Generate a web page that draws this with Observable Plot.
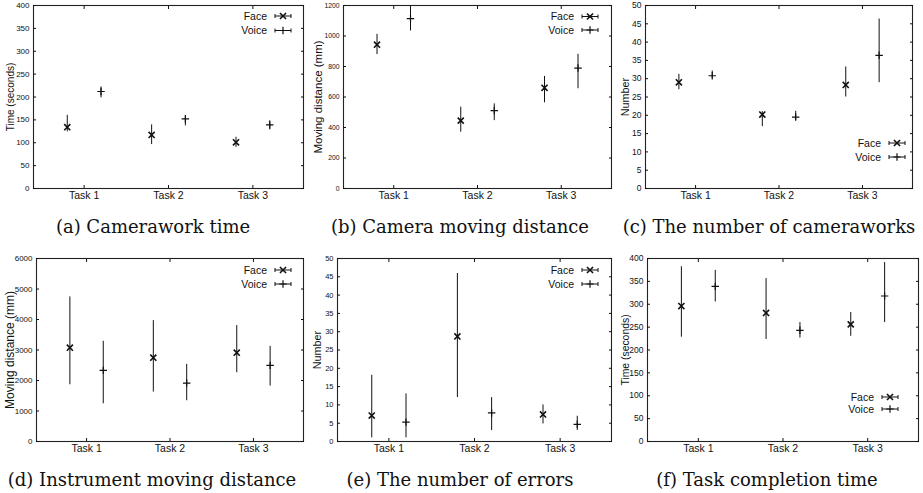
<!DOCTYPE html>
<html><head><meta charset="utf-8">
<script src="https://cdn.jsdelivr.net/npm/d3@7"></script>
<script src="https://cdn.jsdelivr.net/npm/@observablehq/plot@0.6"></script>
<style>
body{margin:0;background:#fff;width:923px;height:493px;position:relative;overflow:hidden}
.panel{position:absolute}
.cap{position:absolute;font-family:"DejaVu Serif",serif;font-size:18px;text-align:center;white-space:nowrap;color:#111;width:320px;line-height:20px}
</style></head><body>
<script>
const tasks = ["Task 1", "Task 2", "Task 3"];
const conditions = ["Face", "Voice"];
// each entry: [mean, lower end of bar, upper end of bar] for Task 1..3
const camTimeFace   = [[134, 124, 160], [117, 96, 139], [101, 90, 112]];
const camTimeVoice  = [[212, 198, 222], [152, 137, 159], [139, 128, 148]];
const camDistFace   = [[943, 878, 1011], [445, 369, 533], [660, 562, 735]];
const camDistVoice  = [[1114, 1033, 1196], [511, 445, 555], [790, 654, 880]];
const camCountFace  = [[29, 27, 31.2], [20.2, 16.9, 21], [28.3, 25, 33.2]];
const camCountVoice = [[30.8, 30, 32.1], [19.5, 18.6, 21.1], [36.4, 28.9, 46.3]];
const instDistFace  = [[3077, 1861, 4741], [2748, 1620, 3964], [2912, 2255, 3800]];
const instDistVoice = [[2332, 1237, 3285], [1916, 1336, 2529], [2496, 1818, 3120]];
const errorsFace    = [[7.1, 1, 18.1], [28.7, 12, 45.9], [7.4, 4.8, 10]];
const errorsVoice   = [[5.3, 1, 13], [7.8, 3, 12], [4.7, 3, 6.9]];
const compTimeFace  = [[296, 228, 382], [281, 223, 356], [256, 230, 282]];
const compTimeVoice = [[339, 305, 374], [243, 226, 260], [318, 260, 391]];

const captions = ["(a) Camerawork time", "(b) Camera moving distance", "(c) The number of cameraworks",
                  "(d) Instrument moving distance", "(e) The number of errors", "(f) Task completion time"];
const yLabels = ["Time (seconds)", "Moving distance (mm)", "Number", "Moving distance (mm)", "Number", "Time (seconds)"];
const yMaxes = [400, 1200, 50, 6000, 50, 400];
const ySteps = [50, 200, 5, 1000, 5, 50];

const panels = [
  {face: camTimeFace, voice: camTimeVoice, left: 0, top: 0, width: 306, ml: 33, mr: 3, ldx: -23, lfs: 10, tfs: 8, capX: 153, capY: 227,
   leg: {anchor: "top", right: 12, dy: [11, 25.5]}},
  {face: camDistFace, voice: camDistVoice, left: 305, top: 0, width: 308, ml: 38, mr: 2, ldx: -25, lfs: 11.5, tfs: 6.8, capX: 460, capY: 227,
   leg: {anchor: "top", right: 13, dy: [11.5, 25]}},
  {face: camCountFace, voice: camCountVoice, left: 615, top: 0, width: 308, ml: 30, mr: 11, ldx: -20, lfs: 10.8, tfs: 8.5, capX: 769, capY: 227,
   leg: {anchor: "bottom", right: 7, dy: [45, 31]}},
  {face: instDistFace, voice: instDistVoice, left: 0, top: 253, width: 306, ml: 36, mr: 3, ldx: -26, lfs: 12, tfs: 8, capX: 152, capY: 480,
   leg: {anchor: "top", right: 12, dy: [12, 26]}},
  {face: errorsFace, voice: errorsVoice, left: 305, top: 253, width: 308, ml: 32, mr: 2, ldx: -20, lfs: 10.8, tfs: 7.5, capX: 460, capY: 480,
   leg: {anchor: "top", right: 13, dy: [12, 26]}},
  {face: compTimeFace, voice: compTimeVoice, left: 615, top: 253, width: 308, ml: 32, mr: 5, ldx: -22, lfs: 10.4, tfs: 8.5, capX: 767, capY: 480,
   leg: {anchor: "bottom", right: 20, dy: [44, 32]}}
];

const offset = {Face: -0.2, Voice: 0.2};
const faceSize = 26, voiceSize = 20;

function legendMark(leg) {
  return (index, scales, values, dim) => {
    const g = d3.create("svg:g");
    const xr = dim.width - dim.marginRight - leg.right;
    const xl = xr - 16;
    const xc = (xl + xr) / 2;
    conditions.forEach((c, i) => {
      const y = leg.anchor === "top" ? dim.marginTop + leg.dy[i] : dim.height - dim.marginBottom - leg.dy[i];
      g.append("text").attr("x", xl - 8).attr("y", y).attr("dy", "0.35em")
        .attr("text-anchor", "end").attr("font-size", 10.5).attr("fill", "#111").text(c);
      g.append("path").attr("d", `M${xl},${y}H${xr}M${xl},${y - 2}v4M${xr},${y - 2}v4`)
        .attr("stroke", "#111").attr("fill", "none");
      g.append("path")
        .attr("d", d3.symbol(c === "Face" ? d3.symbolTimes : d3.symbolPlus, c === "Face" ? faceSize : voiceSize)())
        .attr("transform", `translate(${xc},${y})`)
        .attr("stroke", "#111").attr("stroke-width", c === "Face" ? 1.6 : 1.2).attr("fill", "none");
    });
    return g.node();
  };
}

panels.forEach((p, k) => {
  const rows = [];
  conditions.forEach(c => (c === "Face" ? p.face : p.voice).forEach(([m, lo, hi], ti) =>
    rows.push({cond: c, pos: ti + 1 + offset[c], mean: m, lo, hi})));
  const yTicks = d3.range(0, yMaxes[k] + ySteps[k] / 2, ySteps[k]);
  const chart = Plot.plot({
    width: p.width, height: 205, marginTop: 5, marginBottom: 17, marginLeft: p.ml, marginRight: p.mr,
    x: {type: "linear", domain: [0.4, 3.6]},
    y: {domain: [0, yMaxes[k]]},
    style: {background: "white", color: "#111", fontFamily: "'Liberation Sans', Arial, sans-serif"},
    marks: [
      Plot.frame({stroke: "#222", strokeWidth: 1.1}),
      Plot.axisY({ticks: yTicks, tickFormat: d3.format("d"), tickSize: 0, tickPadding: 4, fontSize: p.tfs, label: null}),
      Plot.axisY({ticks: yTicks, tickSize: 3, dx: 3, tickFormat: () => "", label: null}),
      Plot.axisY({anchor: "right", ticks: yTicks, tickSize: 3, dx: -3, tickFormat: () => "", label: null}),
      Plot.axisX({ticks: [1, 2, 3], tickFormat: d => tasks[d - 1], tickSize: 0, tickPadding: 3, fontSize: 10.5, label: null}),
      Plot.axisX({ticks: [1, 2, 3], tickSize: 3, dy: -3, tickFormat: () => "", label: null}),
      Plot.axisX({anchor: "top", ticks: [1, 2, 3], tickSize: 3, dy: 3, tickFormat: () => "", label: null}),
      Plot.text([yLabels[k]], {frameAnchor: "left", textAnchor: "middle", rotate: -90, dx: p.ldx, fontSize: p.lfs, fill: "#111"}),
      Plot.ruleX(rows, {x: "pos", y1: "lo", y2: "hi", stroke: "#111", strokeWidth: 1}),
      Plot.dot(rows.filter(d => d.cond === "Face"), {x: "pos", y: "mean", symbol: "times", r: Math.sqrt(faceSize / Math.PI), stroke: "#111", strokeWidth: 1.6, fill: "none"}),
      Plot.dot(rows.filter(d => d.cond === "Voice"), {x: "pos", y: "mean", symbol: "plus", r: Math.sqrt(voiceSize / Math.PI), stroke: "#111", strokeWidth: 1.2, fill: "none"}),
      legendMark(p.leg)
    ]
  });
  const div = document.createElement("div");
  div.className = "panel";
  div.style.left = p.left + "px";
  div.style.top = p.top + "px";
  div.appendChild(chart);
  document.body.appendChild(div);
  const cap = document.createElement("div");
  cap.className = "cap";
  cap.style.left = (p.capX - 160) + "px";
  cap.style.top = (p.capY - 10) + "px";
  cap.textContent = captions[k];
  document.body.appendChild(cap);
});
</script>
</body></html>
